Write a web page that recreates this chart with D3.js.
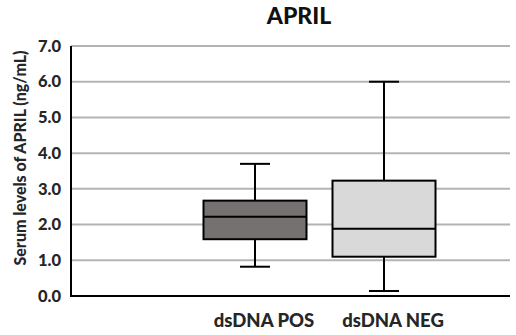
<!DOCTYPE html>
<html><head><meta charset="utf-8">
<script src="https://cdn.jsdelivr.net/npm/d3@7"></script>
<style>body{margin:0;background:#fff}svg{display:block}</style>
</head><body>
<script>
const categories = ["dsDNA POS", "dsDNA NEG"];
const whiskerLow = [0.82, 0.14];
const q1 = [1.59, 1.10];
const median = [2.22, 1.88];
const q3 = [2.67, 3.23];
const whiskerHigh = [3.70, 6.00];
const fills = ["#767171", "#d9d9d9"];
const yTicks = [0, 1, 2, 3, 4, 5, 6, 7];
const title = "APRIL";
const yTitle = "Serum levels of APRIL (ng/mL)";

(function () {
const W = 516, H = 335;
const svg = d3.select("body").append("svg").attr("width", W).attr("height", H);
const font = "Lato, 'Open Sans', sans-serif";
const pLeft = 71, pRight = 510, pTop = 46, pBottom = 296;

const y = d3.scaleLinear().domain([0, 7]).range([pBottom, pTop]);
const x = d3.scalePoint().domain(categories).range([255, 384]);
const boxW = 103, capW = 30;

// gridlines
svg.append("g").selectAll("line").data(yTicks.filter(t => t > 0)).join("line")
  .attr("x1", pLeft).attr("x2", pRight)
  .attr("y1", d => y(d)).attr("y2", d => y(d))
  .attr("stroke", "#b4b4b4").attr("stroke-width", 2);

// y axis
const yAxis = d3.axisLeft(y).tickValues(yTicks).tickFormat(d3.format(".1f")).tickSize(0).tickPadding(10);
const ga = svg.append("g").attr("transform", `translate(${pLeft},0)`).call(yAxis);
ga.select(".domain").remove();
ga.selectAll("text").attr("font-family", font).attr("font-weight", 900).attr("font-size", 16.5).attr("fill", "#262626");
svg.append("line").attr("x1", pLeft).attr("x2", pLeft).attr("y1", pTop).attr("y2", pBottom + 1)
  .attr("stroke", "#000").attr("stroke-width", 2);
svg.append("line").attr("x1", pLeft - 1).attr("x2", pRight).attr("y1", pBottom).attr("y2", pBottom)
  .attr("stroke", "#000").attr("stroke-width", 2);

// boxes
const data = categories.map((c, i) => ({c, lo: whiskerLow[i], q1: q1[i], med: median[i], q3: q3[i], hi: whiskerHigh[i], fill: fills[i]}));
const g = svg.append("g").selectAll("g").data(data).join("g");
g.append("line").attr("x1", d => x(d.c)).attr("x2", d => x(d.c))
  .attr("y1", d => y(d.hi)).attr("y2", d => y(d.lo)).attr("stroke", "#000").attr("stroke-width", 2);
g.append("line").attr("x1", d => x(d.c) - capW / 2).attr("x2", d => x(d.c) + capW / 2)
  .attr("y1", d => y(d.hi)).attr("y2", d => y(d.hi)).attr("stroke", "#000").attr("stroke-width", 2);
g.append("line").attr("x1", d => x(d.c) - capW / 2).attr("x2", d => x(d.c) + capW / 2)
  .attr("y1", d => y(d.lo)).attr("y2", d => y(d.lo)).attr("stroke", "#000").attr("stroke-width", 2);
g.append("rect").attr("x", d => x(d.c) - boxW / 2).attr("width", boxW)
  .attr("y", d => y(d.q3)).attr("height", d => y(d.q1) - y(d.q3))
  .attr("fill", d => d.fill).attr("stroke", "#000").attr("stroke-width", 2);
g.append("line").attr("x1", d => x(d.c) - boxW / 2).attr("x2", d => x(d.c) + boxW / 2)
  .attr("y1", d => y(d.med)).attr("y2", d => y(d.med)).attr("stroke", "#000").attr("stroke-width", 2);

// category labels
svg.append("g").selectAll("text").data(categories).join("text")
  .attr("x", d => x(d) + 9).attr("y", 327).attr("text-anchor", "middle")
  .attr("font-family", font).attr("font-weight", 900).attr("font-size", 18.5).attr("fill", "#262626")
  .text(d => d);

// title
svg.append("text").attr("x", 299).attr("y", 24).attr("text-anchor", "middle")
  .attr("font-family", font).attr("font-weight", 900).attr("font-size", 23).attr("fill", "#111")
  .text(title);

// y title
svg.append("text").attr("transform", `translate(26,158) rotate(-90)`).attr("text-anchor", "middle")
  .attr("font-family", font).attr("font-weight", 900).attr("font-size", 16).attr("fill", "#262626")
  .text(yTitle);
})();
</script>
</body></html>
